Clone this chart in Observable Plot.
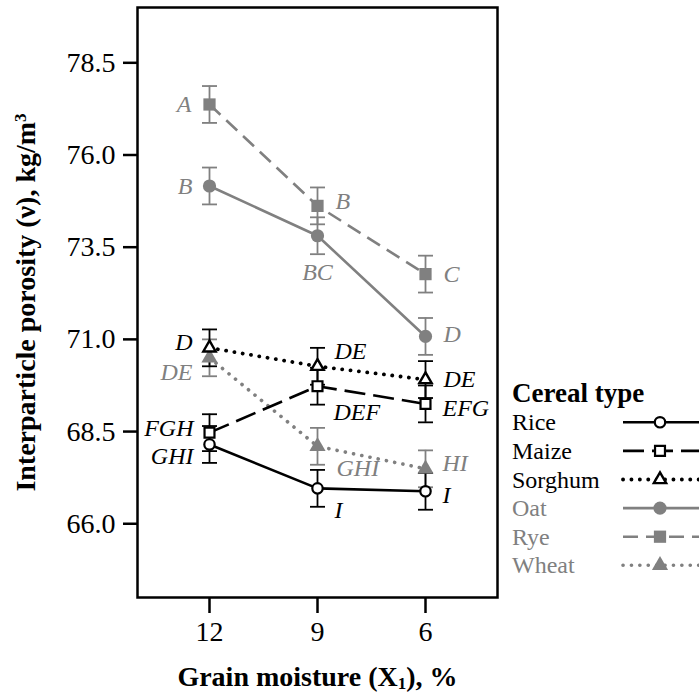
<!DOCTYPE html>
<html><head><meta charset="utf-8">
<style>
body{margin:0;background:#fff;}
#wrap{position:relative;width:699px;height:697px;overflow:hidden;}
</style>
<script src="https://cdn.jsdelivr.net/npm/d3@7"></script>
<script src="https://cdn.jsdelivr.net/npm/@observablehq/plot@0.6"></script>
</head><body>
<div id="wrap"></div>
<script>
// ---------- data ----------
const moisture = [12, 9, 6];
const xTicks = [12, 9, 6];
const yTicks = [66.0, 68.5, 71.0, 73.5, 76.0, 78.5];
const cereals = ["Rice", "Maize", "Sorghum", "Oat", "Rye", "Wheat"];
const rice    = [68.15, 66.96, 66.88];
const maize   = [68.47, 69.73, 69.25];
const sorghum = [70.77, 70.27, 69.91];
const oat     = [75.16, 73.81, 71.08];
const rye     = [77.37, 74.62, 72.77];
const wheat   = [70.50, 68.10, 67.49];
const riceErr    = [0.5, 0.5, 0.5];
const maizeErr   = [0.5, 0.5, 0.5];
const sorghumErr = [0.5, 0.5, 0.5];
const oatErr     = [0.5, 0.5, 0.5];
const ryeErr     = [0.5, 0.5, 0.5];
const wheatErr   = [0.5, 0.5, 0.5];
const riceGroups    = ["GHI", "I", "I"];
const maizeGroups   = ["FGH", "DEF", "EFG"];
const sorghumGroups = ["D", "DE", "DE"];
const oatGroups     = ["B", "BC", "D"];
const ryeGroups     = ["A", "B", "C"];
const wheatGroups   = ["DE", "GHI", "HI"];
const xTitleParts = ["Grain moisture (X", "1", "), %"];                 // middle part is a subscript
const yTitleParts = ["Interparticle porosity (\u03bd), kg/m", "3", ""];  // middle part is a superscript
const legendTitle = "Cereal type";

const values = {Rice: rice, Maize: maize, Sorghum: sorghum, Oat: oat, Rye: rye, Wheat: wheat};
const errors = {Rice: riceErr, Maize: maizeErr, Sorghum: sorghumErr, Oat: oatErr, Rye: ryeErr, Wheat: wheatErr};
const groups = {Rice: riceGroups, Maize: maizeGroups, Sorghum: sorghumGroups, Oat: oatGroups, Rye: ryeGroups, Wheat: wheatGroups};

// ---------- styles ----------
const FONT = "Liberation Serif";
const GRAY = "#808080";
const styles = {
  Rice:    {color: "#000", fill: "#fff", symbol: "circle",   r: 5.2, sw: 2.2, lw: 2.6, dash: null,      cap: "butt"},
  Maize:   {color: "#000", fill: "#fff", symbol: "square",   r: 5.6, sw: 2.2, lw: 2.6, dash: "21,8",    cap: "butt"},
  Sorghum: {color: "#000", fill: "#fff", symbol: "triangle", r: 4.6, sw: 2.4, lw: 3.8, dash: "0.1,8.3", cap: "round"},
  Oat:     {color: GRAY,   fill: GRAY,   symbol: "circle",   r: 6.6, sw: 0,   lw: 2.6, dash: null,      cap: "butt"},
  Rye:     {color: GRAY,   fill: GRAY,   symbol: "square",   r: 6.9, sw: 0,   lw: 2.6, dash: "15,8",    cap: "butt"},
  Wheat:   {color: GRAY,   fill: GRAY,   symbol: "triangle", r: 6.0, sw: 0,   lw: 3.6, dash: "0.1,8.3", cap: "round"}
};
// label placement: [textAnchor, dx, dy] per point
const labelPlacement = {
  Rice:    [["end", -16, 12], ["start", 17, 22], ["start", 17, 4]],
  Maize:   [["end", -16, -4], ["start", 16, 26], ["start", 17, 4]],
  Sorghum: [["end", -17, -6], ["start", 17, -15], ["start", 18, 0]],
  Oat:     [["end", -17, 0],  ["middle", 0, 37], ["start", 18, -2]],
  Rye:     [["end", -18, 0],  ["start", 18, -5], ["start", 18, 0]],
  Wheat:   [["end", -17, 14], ["start", 19, 22], ["start", 17, -5]]
};
const d3Symbols = {circle: d3.symbolCircle, square: d3.symbolSquare, triangle: d3.symbolTriangle};
const capSymbol = {draw(ctx) { ctx.moveTo(-7.5, 0); ctx.lineTo(7.5, 0); }};

// ---------- table ----------
const rows = cereals.flatMap(c => moisture.map((m, j) => ({
  cereal: c, moisture: m, value: values[c][j], err: errors[c][j], group: groups[c][j], j
})));

const drawOrder = ["Oat", "Rye", "Wheat", "Rice", "Maize", "Sorghum"];
const lineMarks = [], errMarks = [], dotMarks = [], labelMarks = [];
for (const c of drawOrder) {
  const s = styles[c];
  const data = rows.filter(d => d.cereal === c);
  lineMarks.push(Plot.line(data, {x: "moisture", y: "value", stroke: s.color, strokeWidth: s.lw,
    strokeDasharray: s.dash || undefined, strokeLinecap: s.cap}));
  errMarks.push(Plot.ruleX(data, {x: "moisture", y1: d => d.value - d.err, y2: d => d.value + d.err, stroke: s.color, strokeWidth: 1.8}));
  errMarks.push(Plot.dot(data, {x: "moisture", y: d => d.value + d.err, symbol: capSymbol, r: 5, fill: "none", stroke: s.color, strokeWidth: 1.8}));
  errMarks.push(Plot.dot(data, {x: "moisture", y: d => d.value - d.err, symbol: capSymbol, r: 5, fill: "none", stroke: s.color, strokeWidth: 1.8}));
  dotMarks.push(Plot.dot(data, {x: "moisture", y: "value", symbol: s.symbol, r: s.r, fill: s.fill,
    stroke: s.sw ? s.color : "none", strokeWidth: s.sw}));
  data.forEach(d => {
    const [anchor, dx, dy] = labelPlacement[c][d.j];
    labelMarks.push(Plot.text([d], {x: "moisture", y: "value", text: "group", textAnchor: anchor, dx, dy,
      fill: s.color, fontSize: 24, fontStyle: "italic", fontFamily: FONT}));
  });
}

const chart = Plot.plot({
  width: 699, height: 697,
  marginLeft: 137, marginRight: 202, marginTop: 7, marginBottom: 100,
  x: {domain: [14, 4]},
  y: {domain: [64, 80]},
  style: {fontFamily: FONT, background: "white", color: "black"},
  marks: [
    Plot.axisY({ticks: yTicks, tickFormat: d3.format(".1f"), tickSize: 14, tickPadding: 8, fontSize: 28, fontFamily: FONT, strokeWidth: 2.5, label: null}),
    Plot.axisX({ticks: xTicks, tickFormat: d => String(d), tickSize: 16, tickPadding: 8, fontSize: 28, fontFamily: FONT, strokeWidth: 2.5, label: null}),
    ...lineMarks, ...errMarks, ...dotMarks, ...labelMarks,
    Plot.frame({stroke: "black", strokeWidth: 2.5}),
    Plot.text([yTitleParts.join("")], {text: d => d, frameAnchor: "left", textAnchor: "middle", lineAnchor: "middle",
      rotate: -90, dx: -111, fontSize: 28, fontWeight: "bold", fontFamily: FONT, className: "ytitle"}),
    Plot.text([xTitleParts.join("")], {text: d => d, frameAnchor: "bottom", textAnchor: "middle", lineAnchor: "middle",
      dy: 80, fontSize: 28, fontWeight: "bold", fontFamily: FONT, className: "xtitle"})
  ]
});
document.getElementById("wrap").appendChild(chart);

// rebuild axis titles with a real sub/superscript
function scriptTitle(sel, parts, shift) {
  const t = d3.select(chart).select(sel).select("text");
  if (t.empty()) return;
  t.text(null);
  t.append("tspan").text(parts[0]);
  t.append("tspan").attr("font-size", 17).attr("baseline-shift", shift).text(parts[1]);
  if (parts[2]) t.append("tspan").attr("baseline-shift", "0").text(parts[2]);
}
scriptTitle(".xtitle", xTitleParts, "-3");
scriptTitle(".ytitle", yTitleParts, "9");
d3.select(chart).attr("font-family", FONT).selectAll("text").attr("font-family", FONT);

// ---------- legend ----------
const legend = d3.create("svg").attr("width", 699).attr("height", 697)
  .style("position", "absolute").style("left", "0px").style("top", "0px")
  .attr("font-family", FONT);
legend.append("text").attr("x", 512).attr("y", 402).attr("font-size", 27).attr("font-weight", "bold").attr("font-family", FONT).text(legendTitle);
cereals.forEach((c, i) => {
  const s = styles[c];
  const cy = 422.3 + 28.6 * i;
  legend.append("text").attr("x", 512).attr("y", cy + 8).attr("font-size", 24).attr("font-family", FONT).attr("fill", s.color).text(c);
  legend.append("line").attr("x1", 623).attr("x2", 710).attr("y1", cy).attr("y2", cy)
    .attr("stroke", s.color).attr("stroke-width", s.lw).attr("stroke-linecap", s.cap)
    .attr("stroke-dasharray", s.dash);
  legend.append("path").attr("transform", `translate(660,${cy})`)
    .attr("d", d3.symbol(d3Symbols[s.symbol], Math.PI * s.r * s.r)())
    .attr("fill", s.fill).attr("stroke", s.sw ? s.color : "none").attr("stroke-width", s.sw);
});
document.getElementById("wrap").appendChild(legend.node());
</script></body></html>
